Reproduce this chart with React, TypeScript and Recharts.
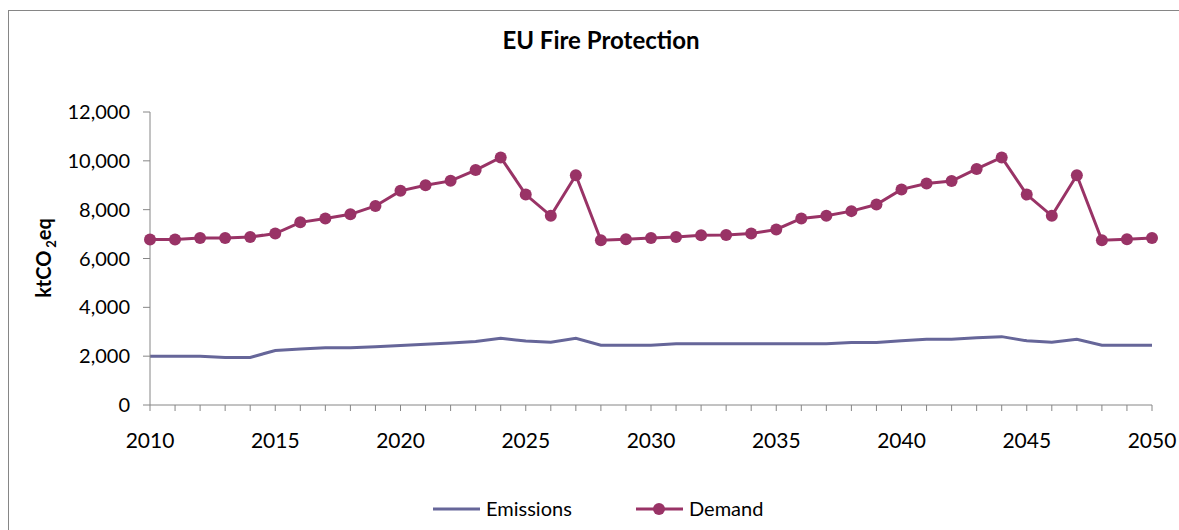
import { LineChart, Line, XAxis, YAxis } from 'recharts';

const years = [
  2010, 2011, 2012, 2013, 2014, 2015, 2016, 2017, 2018, 2019,
  2020, 2021, 2022, 2023, 2024, 2025, 2026, 2027, 2028, 2029,
  2030, 2031, 2032, 2033, 2034, 2035, 2036, 2037, 2038, 2039,
  2040, 2041, 2042, 2043, 2044, 2045, 2046, 2047, 2048, 2049, 2050,
];

// ktCO2eq
const emissions = [
  2000, 2000, 2000, 1950, 1950, 2230, 2290, 2340, 2340, 2390,
  2440, 2490, 2540, 2600, 2730, 2620, 2570, 2730, 2450, 2450,
  2450, 2510, 2510, 2510, 2510, 2510, 2510, 2510, 2560, 2560,
  2630, 2690, 2690, 2750, 2800, 2630, 2570, 2690, 2450, 2450, 2450,
];

const demand = [
  6780, 6780, 6840, 6840, 6880, 7020, 7480, 7640, 7810, 8150,
  8770, 9000, 9180, 9620, 10140, 8620, 7750, 9410, 6750, 6790,
  6840, 6880, 6950, 6960, 7020, 7190, 7640, 7750, 7940, 8210,
  8830, 9070, 9170, 9670, 10140, 8620, 7750, 9410, 6750, 6790, 6840,
];

const yTicks = [0, 2000, 4000, 6000, 8000, 10000, 12000];
const labelYears = [2010, 2015, 2020, 2025, 2030, 2035, 2040, 2045, 2050];

const data = years.map((year, i) => ({
  year,
  emissions: emissions[i],
  demand: demand[i],
}));

const FONT = 'Lato, "Open Sans", sans-serif';
const EMISSIONS_COLOR = '#666699';
const DEMAND_COLOR = '#993366';
const AXIS_COLOR = '#868686';

export default function App() {
  // fixed so nothing can push the page into scrollbars
  return (
    <div
      style={{
        position: 'fixed',
        left: 8,
        top: 8,
        width: 1171,
        height: 522,
        fontFamily: FONT,
        overflow: 'hidden',
        background: '#fff',
      }}
    >
      {/* chart frame, only left and top edges are in view */}
      <div
        style={{
          position: 'absolute',
          left: 0,
          top: 2,
          right: -5,
          bottom: -5,
          borderLeft: `1px solid ${AXIS_COLOR}`,
          borderTop: `1px solid ${AXIS_COLOR}`,
        }}
      />
      <div
        style={{
          position: 'absolute',
          left: 15,
          right: 0,
          top: 17,
          textAlign: 'center',
          fontSize: 24,
          fontWeight: 'bold',
          color: '#000',
        }}
      >
        EU Fire Protection
      </div>
      <div
        style={{
          position: 'absolute',
          left: 37,
          top: 250,
          transform: 'translate(-50%, -50%) rotate(-90deg)',
          fontSize: 20,
          fontWeight: 'bold',
          whiteSpace: 'nowrap',
          color: '#000',
        }}
      >
        ktCO <span style={{ fontSize: 13, verticalAlign: 'sub', marginLeft: -2 }}>2</span>eq
      </div>

      <LineChart
        width={1171}
        height={514}
        data={data}
        margin={{ top: 104, right: 27, left: 0, bottom: 67 }}
        style={{ position: 'absolute', left: 0, top: 0 }}
      >
        <XAxis
          dataKey="year"
          type="number"
          domain={[2010, 2050]}
          ticks={years}
          interval={0}
          tickFormatter={(v: number) => (labelYears.includes(v) ? String(v) : '')}
          stroke={AXIS_COLOR}
          tickSize={6}
          tickMargin={22}
          height={50}
          tick={{ fill: '#000', fontSize: 21, fontFamily: FONT }}
        />
        <YAxis
          domain={[0, 12000]}
          ticks={yTicks}
          interval={0}
          width={142}
          tickFormatter={(v: number) => v.toLocaleString('en-US')}
          stroke={AXIS_COLOR}
          tickSize={7}
          tickMargin={13}
          tick={{ fill: '#000', fontSize: 20, fontFamily: FONT }}
        />
        <Line
          type="linear"
          dataKey="emissions"
          stroke={EMISSIONS_COLOR}
          strokeWidth={3}
          dot={false}
          isAnimationActive={false}
        />
        <Line
          type="linear"
          dataKey="demand"
          stroke={DEMAND_COLOR}
          strokeWidth={3}
          dot={{ r: 6, fill: DEMAND_COLOR, stroke: DEMAND_COLOR, strokeWidth: 0 }}
          isAnimationActive={false}
        />
      </LineChart>

      {/* legend */}
      <svg style={{ position: 'absolute', left: 425, top: 491 }} width={50} height={20}>
        <line x1={0} y1={10} x2={47} y2={10} stroke={EMISSIONS_COLOR} strokeWidth={3} />
      </svg>
      <div style={{ position: 'absolute', left: 478, top: 488, fontSize: 20, color: '#000' }}>
        Emissions
      </div>
      <svg style={{ position: 'absolute', left: 628, top: 491 }} width={50} height={20}>
        <line x1={0} y1={10} x2={47} y2={10} stroke={DEMAND_COLOR} strokeWidth={3} />
        <circle cx={23} cy={10} r={6} fill={DEMAND_COLOR} />
      </svg>
      <div style={{ position: 'absolute', left: 681, top: 488, fontSize: 20, color: '#000' }}>
        Demand
      </div>
    </div>
  );
}
